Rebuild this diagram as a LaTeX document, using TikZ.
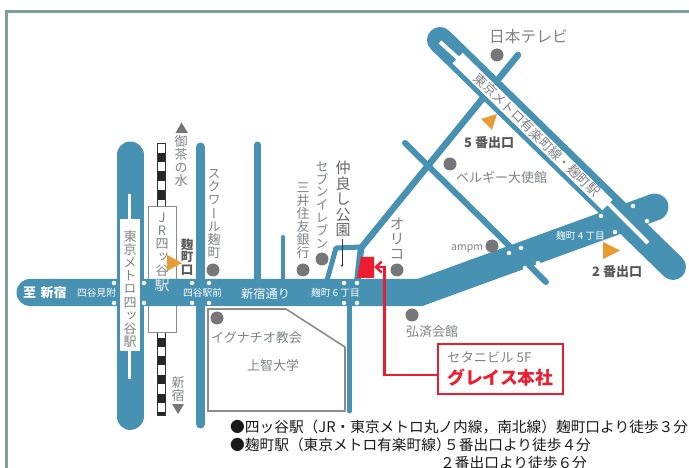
\documentclass[tikz,border=0pt]{standalone}
\usepackage{fontspec}
\setmainfont{Noto Sans CJK JP}
\newfontfamily\vfont[RawFeature={+vert}]{Noto Sans CJK JP}
\usetikzlibrary{arrows.meta}
\definecolor{road}{HTML}{4791B2}
\definecolor{framec}{HTML}{7F9F9F}
\definecolor{txt}{HTML}{808285}
\definecolor{dotc}{HTML}{77777A}
\definecolor{mark}{HTML}{E99A32}
\definecolor{redc}{HTML}{ED1C2E}
\newcommand\fs[2]{\fontsize{#1}{#2}\selectfont\lineskiplimit=-100pt\relax}
\tikzset{
  rd/.style={draw=road,line width=#1,line cap=round,line join=round},
  wl/.style={draw=white,line width=#1,line cap=butt},
  gdot/.style={circle,fill=dotc,inner sep=0pt,minimum size=13pt},
  wdot/.style={circle,fill=white,inner sep=0pt,minimum size=4.5pt},
  lab/.style={inner sep=0pt,text=txt,font=\fs{#1}{#1}},
  wlab/.style={inner sep=0pt,text=white,font=\fs{#1}{#1}},
  vlab/.style n args={2}{inner sep=0pt,align=center,text=txt,font=\vfont\fs{#1}{#2}},
  blab/.style={inner sep=0pt,anchor=west,text=black!65,font=\bfseries\fs{13}{13}},
  btm/.style={inner sep=0pt,anchor=west,text=black!90,font=\fs{14.7}{14.7}},
  tri/.style={fill=mark},
}
\begin{document}
\begin{tikzpicture}[x=1pt,y=-1pt]
\useasboundingbox (0,0) rectangle (689,468);
% frame
\draw[framec,line width=2.6pt] (6.5,470) -- (6.5,11.5) -- (690,11.5);
% JR line
\foreach \y in {0,1,2} {\fill[white] (157.5,143.5+18.7*\y) rectangle (165,152.8+18.7*\y);
  \fill[black!85] (157.5,152.8+18.7*\y) rectangle (165,162.2+18.7*\y);}
\draw[black!80,line width=.8pt] (157.5,206) -- (157.5,143.5) -- (165,143.5) -- (165,206);
\foreach \y in {0,1,2,3} {\fill[black!85] (157.5,337.5+18.7*\y) rectangle (165,346.5+18.7*\y);}
\fill[black!85] (157.5,411.5) rectangle (165,415);
\draw[black!80,line width=.8pt] (157.5,332) -- (157.5,415) -- (165,415) -- (165,332);
\draw[fill=white,draw=black!45,line width=.9pt] (148,206) rectangle (176.5,332);
% thin roads
\draw[rd=9pt] (200.5,147) -- (200.5,424);
\draw[rd=7pt] (257.5,145) -- (257.5,285);
\draw[rd=4pt] (283,237) -- (283,285);
\draw[rd=5pt] (349.5,300) -- (349.5,411);
\draw[rd=5pt] (326,284) -- (336,248) -- (361,247);
\draw[rd=6.5pt] (357,284) -- (361,248) -- (518,55);
\draw[rd=6pt] (405,143) -- (546,282);
% thick roads
\draw[rd=27pt,line join=miter] (30,292.5) -- (420,292.5) -- (655,207);
\draw[rd=27pt] (130,155) -- (130,416.5);
\draw[rd=26pt] (440,40) -- (673,267);
% white bands
\fill[white] (120,219) rectangle (140,350.5);
\draw[wl=3pt] (129.5,194) -- (129.5,219);
\draw[wl=3pt] (129.5,350) -- (129.5,379);
\draw[wl=14.5pt] (457.5,58) -- (607.5,205);
\draw[wl=4pt] (440,42) -- (460,60);
\draw[wl=4pt] (605,200) -- (648,243);
% white dots
\foreach \p/\n in {114/a,144/b,192/c,209/d,344/e,357/f} {
  \node[wdot] (dt\n) at (\p,283) {};
  \node[wdot] (db\n) at (\p,303) {};}
\foreach \x/\y/\n in {633/206/g,647/221/h,601/216/i,615/232/j,509/253/k,521/248/l,525/268/m,538/263/n} {
  \node[wdot] (dx\n) at (\x,\y) {};}
% grey landmarks
\node[gdot] (g1) at (213,270) {};
\node[gdot] (g2) at (303,270) {};
\node[gdot] (g3) at (322,259) {};
\node[gdot] (g4) at (397,270) {};
\node[gdot] (g5) at (412,315) {};
\node[gdot] (g6) at (217,318) {};
\node[gdot] (g7) at (497,55) {};
\node[gdot] (g8) at (450,164) {};
\node[gdot] (g9) at (492,246) {};
% triangles
\fill[dotc] (181.5,122.5) -- (188,133) -- (175.5,133) -- cycle;
\fill[dotc] (178,414) -- (184,404) -- (172,404) -- cycle;
\fill[tri] (167,255) -- (182,263) -- (167,271) -- cycle;
\fill[tri] (481,119) -- (497,114) -- (492,130) -- cycle;
\fill[tri] (603,242) -- (620,250.5) -- (603,259) -- cycle;
% church block
\draw[draw=black!45,line width=1.6pt] (208,309) -- (286,309) -- (345,347) -- (345,411) -- (208,411) -- cycle;
% building, arrow, box
\fill[redc] (361,257) -- (374,257) -- (374,278) -- (357,278) -- cycle;
\node[draw=redc,line width=2pt,minimum width=125pt,minimum height=49.5pt,inner sep=0pt] (hq) at (500,369) {};
\coordinate (tip) at (374,267);
\coordinate (elbow) at (384.5,375);
\draw[redc,line width=2.4pt,-{Straight Barb[length=6pt,width=11pt]}] (hq.west |- elbow) -- (elbow) -- (384.5,267) -- (tip);
\node[lab=13.3,anchor=west] (hq1) at (447,357) {セタニビル 5F};
\node[inner sep=0pt,anchor=west,text=redc,font=\bfseries\fs{17.8}{17.8}] (hq2) at (447,377.5) {グレイス本社};
% vertical labels
\node[vlab={13}{13.2}] (v1) at (130,289) {東\\京\\メ\\ト\\ロ\\四\\ッ\\谷\\駅};
\node[vlab={13}{13.2}] (v2) at (162,244.5) {J\\R\\四\\ッ\\谷};
\node[inner sep=0pt,text=white!85!txt,font=\fs{15}{15}] (v2b) at (162,285) {駅};
\node[vlab={13}{13}] (v3) at (181,161) {御\\茶\\の\\水};
\node[vlab={13}{13}] (v4) at (178,389) {新\\宿};
\node[vlab={13}{13.2}] (v5) at (214,214) {ス\\ク\\ワ\\ー\\ル\\麹\\町};
\node[inner sep=0pt,align=center,text=black!65,font=\bfseries\fs{12.5}{12.8}] (v6) at (187,257) {麹\\町\\口};
\node[vlab={13}{13}] (v7) at (303,221) {三\\井\\住\\友\\銀\\行};
\node[vlab={13}{12.9}] (v8) at (322,205) {セ\\ブ\\ン\\イ\\レ\\ブ\\ン};
\node[inner sep=0pt,align=center,text=black!60,font=\vfont\fs{15}{15.6}] (v9) at (343,199) {仲\\良\\し\\公\\園};
\node[vlab={15}{15}] (v10) at (397,238.5) {オ\\リ\\コ};
\coordinate (parkfoot) at (342,239);
\coordinate (parkend) at (342,267);
\draw[black!80,line width=.6pt,-{Stealth[length=2.5pt,width=2.5pt]}] (parkfoot) -- (parkend);
% horizontal labels
\node[lab=15.7,anchor=west] (t1) at (489,37) {日本テレビ};
\node[lab=13,anchor=west] (t2) at (456,178) {ベルギー大使館};
\node[lab=10.5,anchor=west] (t3) at (451,249) {ampm};
\node[blab] (t4) at (464,143) {5 番出口};
\node[blab] (t5) at (592,272) {2 番出口};
\node[lab=13,anchor=west] (t6) at (406,332) {弘済会館};
\node[lab=13,anchor=west] (t7) at (211,338) {イグナチオ教会};
\node[lab=13,anchor=west] (t8) at (247,366) {上智大学};
\node[lab=13,rotate=-44] (t9) at (537,135) {東京メトロ有楽町線・麹町駅};
% road labels
\node[inner sep=0pt,anchor=west,text=white,font=\bfseries\fs{13}{13}] (r1) at (23,293) {至\,\,新宿};
\node[wlab=9.7,anchor=west] (r2) at (77,293) {四谷見附};
\node[wlab=9.7,anchor=west] (r3) at (183,293) {四谷駅前};
\node[wlab=12.2,anchor=west] (r4) at (241,294) {新宿通り};
\node[wlab=9.7,anchor=west] (r5) at (311,293) {麹町 6 丁目};
\node[wlab=9.7,anchor=west] (r6) at (556,236) {麹町 4 丁目};
% bottom text
\node[btm] (b1) at (230,427) {●四ッ谷駅（JR・東京メトロ丸ノ内線，南北線）麹町口より徒歩３分};
\node[btm] (b2) at (230,445) {●麹町駅（東京メトロ有楽町線）};
\node[btm] (b3) at (444,445) {５番出口より徒歩４分};
\node[btm] (b4) at (440,463) {２番出口より徒歩６分};
\end{tikzpicture}
\end{document}
